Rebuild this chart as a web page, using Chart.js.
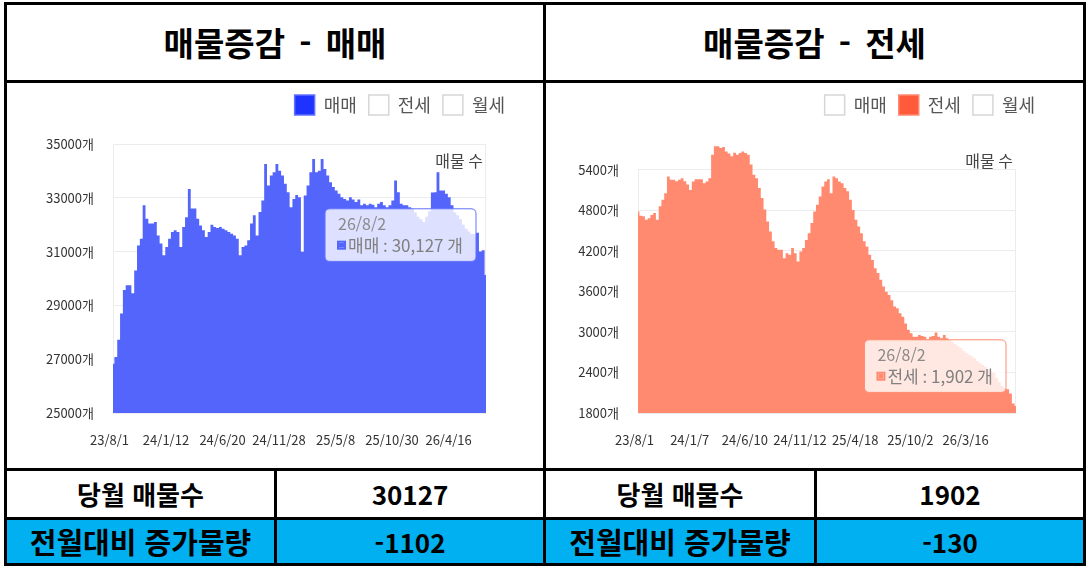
<!DOCTYPE html>
<html lang="ko">
<head>
<meta charset="utf-8">
<script src="https://cdn.jsdelivr.net/npm/chart.js@4.4.1/dist/chart.umd.min.js"></script>
<style>
  body { margin: 0; width: 1090px; height: 569px; background: #fff; position: relative; overflow: hidden;
         font-family: "Noto Sans CJK KR", "Noto Sans", sans-serif; }
  .cell { position: absolute; box-sizing: border-box; border: 3px solid #000; display: flex;
          align-items: center; justify-content: center; font-weight: bold; color: #000; line-height: 1; }
  .head { font-size: 33px; word-spacing: 5px; }
  .lbl1 { font-size: 26px; }
  .lbl2 { font-size: 29px; }
  .num { font-size: 26px; }
  .blue { background: #00b0f0; }
  .box { position: absolute; width: 536px; height: 385px; top: 83px; }
</style>
</head>
<body>
  <div class="cell head" style="left:4px;top:2px;width:542px;height:81px;">매물증감 - 매매</div>
  <div class="cell head" style="left:543px;top:2px;width:543px;height:81px;">매물증감 - 전세</div>
  <div class="cell" style="left:4px;top:80px;width:542px;height:391px;"></div>
  <div class="cell" style="left:543px;top:80px;width:543px;height:391px;"></div>

  <div class="cell lbl1" style="left:4px;top:468px;width:273px;height:52px;">당월 매물수</div>
  <div class="cell num js-sale-now" style="left:274px;top:468px;width:272px;height:52px;"></div>
  <div class="cell lbl1" style="left:543px;top:468px;width:274px;height:52px;">당월 매물수</div>
  <div class="cell num js-jeonse-now" style="left:814px;top:468px;width:272px;height:52px;"></div>

  <div class="cell lbl2 blue" style="left:4px;top:517px;width:273px;height:49px;">전월대비 증가물량</div>
  <div class="cell num blue js-sale-diff" style="left:274px;top:517px;width:272px;height:49px;"></div>
  <div class="cell lbl2 blue" style="left:543px;top:517px;width:274px;height:49px;">전월대비 증가물량</div>
  <div class="cell num blue js-jeonse-diff" style="left:814px;top:517px;width:272px;height:49px;"></div>

  <div class="box" style="left:7px;"><canvas id="saleChart"></canvas></div>
  <div class="box" style="left:546px;"><canvas id="jeonseChart"></canvas></div>

<script>
// legend entries (same for both charts)
const seriesNames = ['매매', '전세', '월세'];

// 매매 : one value per step, date label every 20 steps
const saleTicks = ['23/8/1', '24/1/12', '24/6/20', '24/11/28', '25/5/8', '25/10/30', '26/4/16'];
const saleYTicks = [25000, 27000, 29000, 31000, 33000, 35000];
const saleLastDate = '26/8/2';
const saleValues = [
  26830, 27080, 27720, 28700, 29570, 29750, 29750, 29450, 30300, 31230, 31480, 32720, 32220, 32040, 32040, 32100, 31600, 31300, 30860, 31170,
  31480, 31730, 31790, 31730, 31170, 31910, 32280, 33330, 32600, 32600, 32220, 31970, 31790, 31540, 31730, 32000, 31910, 31880, 31910, 31850,
  31790, 31730, 31660, 31600, 31480, 30860, 31170, 31230, 31420, 32040, 32350, 31600, 32470, 32900, 34260, 33460, 33830, 33950, 34260, 34010,
  33830, 33520, 33210, 32650, 32960, 33100, 33020, 30990, 33090, 33460, 33950, 34440, 33950, 34010, 34440, 34070, 33830, 33580, 33400, 33270,
  33150, 33020, 32960, 32900, 33020, 32940, 32840, 32940, 32720, 32780, 32720, 32780, 32740, 32650, 32780, 32840, 32720, 32650, 32720, 32900,
  33640, 33210, 32780, 32720, 32720, 32650, 32590, 32450, 32300, 32200, 32100, 32300, 32500, 33200, 33210, 33950, 33270, 33270, 33150, 33020,
  32720, 32450, 32350, 32200, 32000, 31850, 31750, 31650, 31650, 31700, 31000, 31050, 30127
];

// 전세
const jeonseTicks = ['23/8/1', '24/1/7', '24/6/10', '24/11/12', '25/4/18', '25/10/2', '26/3/16'];
const jeonseYTicks = [1800, 2400, 3000, 3600, 4200, 4800, 5400];
const jeonseLastDate = '26/8/2';
const jeonseValues = [
  4780, 4720, 4710, 4660, 4680, 4730, 4760, 4660, 4860, 4955, 5050, 5300, 5250, 5250, 5230, 5250, 5275, 5230, 5180, 5100,
  5225, 5260, 5260, 5260, 5200, 5225, 5275, 5620, 5745, 5745, 5720, 5735, 5670, 5640, 5600, 5650, 5620, 5645, 5670, 5645,
  5620, 5475, 5325, 5275, 5130, 4980, 4810, 4635, 4485, 4340, 4240, 4215, 4215, 4090, 4165, 4140, 4240, 4165, 4040, 4190,
  4240, 4360, 4460, 4610, 4780, 4880, 5005, 5150, 5225, 5260, 5050, 5300, 5275, 5225, 5200, 5130, 5080, 4955, 4805, 4660,
  4560, 4460, 4340, 4265, 4140, 4065, 3940, 3870, 3770, 3670, 3595, 3545, 3470, 3375, 3350, 3275, 3225, 3125, 3030, 2980,
  2930, 2930, 2955, 2940, 2930, 2890, 2930, 2940, 2990, 2930, 2905, 2955, 2905, 2880, 2850, 2820, 2790, 2760, 2720, 2690,
  2660, 2640, 2610, 2570, 2540, 2510, 2480, 2440, 2410, 2390, 2320, 2260, 2200, 2170, 2150, 2090, 1940, 1902
];

// table below the charts
const saleNow = 30127;
const saleDiff = -1102;
const jeonseNow = 1902;
const jeonseDiff = -130;

const tickEvery = 20;
const fontFamily = '"Noto Sans CJK KR", "Noto Sans", sans-serif';
const fmt = new Intl.NumberFormat('en-US');

Chart.defaults.font.family = fontFamily;

// tooltip sits up-left of the last point
Chart.Tooltip.positioners.lastPoint = function (items) {
  if (!items.length) return false;
  const el = items[0].element;
  return { x: el.x - 10, y: el.y - 40, xAlign: 'right', yAlign: 'center' };
};

// make room between legend and plot
const legendSpace = {
  id: 'legendSpace',
  beforeInit(chart) {
    const fit = chart.legend.fit;
    chart.legend.fit = function () {
      fit.call(this);
      this.height = 61;
    };
  }
};

// faint frame lines + "매물 수" caption
const plotExtras = {
  id: 'plotExtras',
  beforeDatasetsDraw(chart) {
    const { ctx, chartArea, scales } = chart;
    const y = scales.y;
    const top = y.getPixelForValue(y.ticks[y.ticks.length - 1].value);
    ctx.save();
    ctx.strokeStyle = '#ececec';
    ctx.lineWidth = 1;
    ctx.beginPath();
    ctx.moveTo(chartArea.left + 0.5, top);
    ctx.lineTo(chartArea.left + 0.5, chartArea.bottom);
    ctx.moveTo(chartArea.right - 0.5, top);
    ctx.lineTo(chartArea.right - 0.5, chartArea.bottom);
    ctx.stroke();
    ctx.restore();
  },
  afterDatasetsDraw(chart) {
    const { ctx, chartArea } = chart;
    ctx.save();
    ctx.font = '16px ' + fontFamily;
    ctx.fillStyle = '#444';
    ctx.textAlign = 'right';
    ctx.textBaseline = 'middle';
    ctx.fillText('매물 수', chartArea.right - 3, chartArea.top + 17);
    ctx.restore();
  }
};

const drawChart = function (canvasId, values, ticks, yTicks, lastDate, opt) {
  const labels = values.map(function (v, i) {
    if (i % tickEvery === 0) return ticks[i / tickEvery];
    if (i === values.length - 1) return lastDate;
    return '';
  });

  const config = {
    type: 'line',
    data: {
      labels: labels,
      datasets: [{
        label: seriesNames[opt.active],
        data: values,
        stepped: 'middle',
        fill: 'start',
        backgroundColor: opt.fill,
        borderColor: opt.fill,
        borderWidth: 0,
        pointRadius: 0,
        pointHoverRadius: 0
      }]
    },
    options: {
      responsive: false,
      animation: false,
      events: [],
      layout: { padding: { top: 0, left: 0, bottom: 0, right: opt.padRight } },
      scales: {
        x: {
          grid: { display: false },
          border: { display: false },
          afterFit: function (s) { s.height = 55; },
          ticks: {
            autoSkip: false,
            maxRotation: 0,
            minRotation: 0,
            padding: 11,
            labelOffset: -3.5,
            color: '#333',
            font: { size: 13 },
            callback: function (val, i) {
              return i % tickEvery === 0 ? this.getLabelForValue(val) : '';
            }
          }
        },
        y: {
          min: yTicks[0],
          max: opt.yMax,
          afterFit: function (s) { s.width = opt.axisWidth; },
          afterBuildTicks: function (s) { s.ticks = yTicks.map(function (v) { return { value: v }; }); },
          grid: { color: '#ececec', drawTicks: false },
          border: { display: false },
          ticks: {
            padding: 19,
            color: '#333',
            font: { size: 13 },
            callback: function (v) { return v + '개'; }
          }
        },
        yR: {
          type: 'linear',
          position: 'right',
          grid: { display: false },
          border: { display: false },
          ticks: { display: false },
          afterFit: function (s) { s.width = 31; }
        }
      },
      plugins: {
        legend: {
          position: 'top',
          align: 'end',
          labels: {
            boxWidth: 20,
            boxHeight: 20,
            padding: 12,
            color: '#555',
            font: { size: 18 },
            generateLabels: function () {
              return seriesNames.map(function (name, i) {
                const on = i === opt.active;
                return {
                  text: name,
                  fillStyle: on ? opt.box : '#fff',
                  strokeStyle: on ? opt.boxBorder : '#d6d6d6',
                  lineWidth: 1.5,
                  fontColor: '#555',
                  hidden: false,
                  datasetIndex: 0
                };
              });
            }
          }
        },
        tooltip: {
          position: 'lastPoint',
          backgroundColor: 'rgba(255,255,255,0.8)',
          borderColor: opt.boxBorder,
          borderWidth: 1,
          cornerRadius: 5,
          caretSize: 0,
          caretPadding: 0,
          padding: { x: 13, y: 6 },
          titleColor: '#8a8a8a',
          bodyColor: '#808080',
          titleFont: { size: 16, weight: 'normal' },
          bodyFont: { size: 17 },
          titleMarginBottom: 1,
          boxWidth: 7,
          boxHeight: 7,
          boxPadding: 1,
          callbacks: {
            title: function (items) { return items[0].label; },
            label: function (c) { return c.dataset.label + ' : ' + fmt.format(c.parsed.y) + ' 개'; },
            labelColor: function () { return { borderColor: opt.fill, backgroundColor: opt.fill, borderWidth: 2 }; }
          }
        }
      }
    },
    plugins: [legendSpace, plotExtras]
  };

  const canvas = document.getElementById(canvasId);
  canvas.width = 536;
  canvas.height = 385;
  const chart = new Chart(canvas.getContext('2d'), config);

  // show the tooltip of the latest value
  const last = values.length - 1;
  const pt = chart.getDatasetMeta(0).data[last];
  chart.tooltip.setActiveElements([{ datasetIndex: 0, index: last }], { x: pt.x, y: pt.y });
  chart.update();
  return chart;
};

document.querySelector('.js-sale-now').textContent = saleNow;
document.querySelector('.js-sale-diff').textContent = saleDiff;
document.querySelector('.js-jeonse-now').textContent = jeonseNow;
document.querySelector('.js-jeonse-diff').textContent = jeonseDiff;

drawChart('saleChart', saleValues, saleTicks, saleYTicks, saleLastDate, {
  active: 0, fill: '#5465fb', box: '#1f33ff', boxBorder: '#6272ff',
  yMax: 35000, axisWidth: 106, padRight: 26
});
drawChart('jeonseChart', jeonseValues, jeonseTicks, jeonseYTicks, jeonseLastDate, {
  active: 1, fill: '#ff8a70', box: '#ff5a3c', boxBorder: '#ff8a70',
  yMax: 5780, axisWidth: 92, padRight: 35
});
</script>
</body>
</html>
